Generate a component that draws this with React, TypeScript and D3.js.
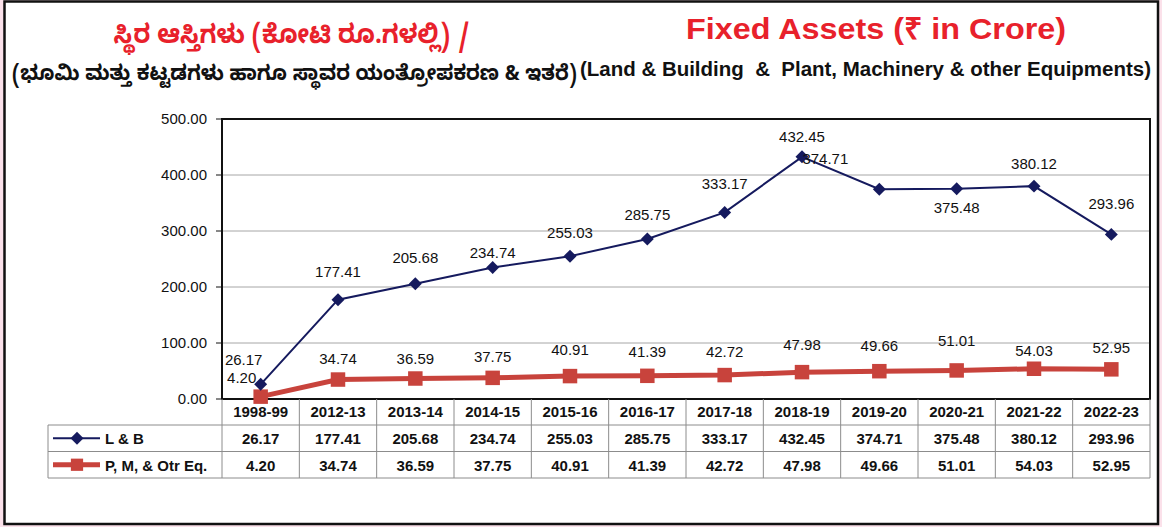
import React from "react";
import * as d3 from "d3";

const categories = ["1998-99","2012-13","2013-14","2014-15","2015-16","2016-17","2017-18","2018-19","2019-20","2020-21","2021-22","2022-23"];
const landBuilding = [26.17,177.41,205.68,234.74,255.03,285.75,333.17,432.45,374.71,375.48,380.12,293.96];
const plantMachinery = [4.20,34.74,36.59,37.75,40.91,41.39,42.72,47.98,49.66,51.01,54.03,52.95];
const yTicks = [0,100,200,300,400,500];
const seriesNames = ["L & B","P, M, & Otr Eq."];

// label placement (dx, dy) relative to point
const lbOffsets: [number, number][] = [[-17,-24],[0,-28],[0,-26],[0,-15],[0,-23],[0,-24],[0,-28],[0,-20],[-54,-30],[0,19],[0,-22],[0,-30]];
const pmOffsets: [number, number][] = [[-19,-19],[0,-21],[0,-20],[0,-21],[0,-26],[0,-24],[0,-23],[0,-27],[0,-25],[0,-29],[0,-18],[0,-21]];

const W = 1162, H = 527;
const left = 222, right = 1150, top = 119, bottom = 399;
const navy = "#151a5e";
const red = "#c8433c";
const font = "'Liberation Sans', Arial, sans-serif";

export default function App() {
  const x = d3.scaleBand<string>().domain(categories).range([left, right]);
  const bw = x.bandwidth();
  const cx = (c: string) => (x(c) as number) + bw / 2;
  const y = d3.scaleLinear().domain([0, 500]).range([bottom, top]);
  const fmt = d3.format(".2f");

  const lineGen = d3.line<number>().x((_, i) => cx(categories[i])).y((v) => y(v));
  const diamond = d3.symbol(d3.symbolSquare, 84)();
  const square = d3.symbol(d3.symbolSquare, 210)();
  const legSquare = d3.symbol(d3.symbolSquare, 150)();

  const row0 = 399, row1 = 425, row2 = 451.5, row3 = 478;
  const tableLeft = 48;

  return (
    <svg width={W} height={H} style={{ position: "absolute", left: 0, top: 0 }} fontFamily={font}>
      <rect x={0} y={0} width={W} height={H} fill="#fbe1ea" />
      <rect x={4.5} y={1.5} width={1153.5} height={522.5} fill="#ffffff" stroke="#111" strokeWidth={2.5} />

      {/* Titles */}
      <text x={292} y={43} textAnchor="middle" fill="#e8212b" fontWeight="bold" fontSize={26} fontFamily="'Noto Sans Kannada', 'Noto Sans', sans-serif" textLength={357} lengthAdjust="spacingAndGlyphs">ಸ್ಥಿರ ಆಸ್ತಿಗಳು (ಕೋಟಿ ರೂ.ಗಳಲ್ಲಿ) /</text>
      <text x={12} y={80} fill="#111" fontSize={21} fontWeight="bold" fontFamily="'Noto Sans Kannada', 'Noto Sans', sans-serif" textLength={565} lengthAdjust="spacingAndGlyphs">(ಭೂಮಿ ಮತ್ತು ಕಟ್ಟಡಗಳು ಹಾಗೂ ಸ್ಥಾವರ ಯಂತ್ರೋಪಕರಣ &amp; ಇತರೆ)</text>
      <text x={686} y={39} fill="#e8212b" fontWeight="bold" fontSize={30} textLength={380} lengthAdjust="spacingAndGlyphs">Fixed Assets (₹ in Crore)</text>
      <text x={580} y={76} fill="#111" fontWeight="bold" fontSize={20} textLength={571} lengthAdjust="spacingAndGlyphs" style={{ whiteSpace: "pre" }}>(Land &amp; Building  &amp;  Plant, Machinery &amp; other Equipments)</text>

      {/* gridlines */}
      {yTicks.map((t) => (
        <g key={t}>
          {t > 0 && t < 500 && <line x1={left} x2={right} y1={y(t)} y2={y(t)} stroke="#a6a6a6" strokeWidth={1} />}
          <line x1={left - 6} x2={left} y1={y(t)} y2={y(t)} stroke="#111" strokeWidth={1} />
          <text x={207} y={y(t) + 5} textAnchor="end" fontSize={15} fill="#111">{fmt(t)}</text>
        </g>
      ))}
      <rect x={left} y={top} width={right - left} height={bottom - top} fill="none" stroke="#111" strokeWidth={2} />

      {/* table */}
      <g stroke="#8c8c8c" strokeWidth={1}>
        <line x1={tableLeft} x2={right} y1={row1} y2={row1} />
        <line x1={tableLeft} x2={right} y1={row2} y2={row2} />
        <line x1={tableLeft} x2={right} y1={row3} y2={row3} />
        <line x1={tableLeft} x2={tableLeft} y1={row1} y2={row3} />
        <line x1={left} x2={left} y1={row0} y2={row3} />
        {categories.map((c) => (
          <line key={c} x1={(x(c) as number) + bw} x2={(x(c) as number) + bw} y1={row0} y2={row3} />
        ))}
      </g>
      {categories.map((c, i) => (
        <g key={c} fontWeight="bold" fontSize={15} textAnchor="middle" fill="#111">
          <text x={cx(c)} y={row0 + 18}>{c}</text>
          <text x={cx(c)} y={row1 + 19}>{fmt(landBuilding[i])}</text>
          <text x={cx(c)} y={row2 + 19}>{fmt(plantMachinery[i])}</text>
        </g>
      ))}
      {/* legend keys */}
      <line x1={53} x2={100} y1={(row1 + row2) / 2} y2={(row1 + row2) / 2} stroke={navy} strokeWidth={2} />
      <path d={diamond as string} transform={`translate(77,${(row1 + row2) / 2}) rotate(45)`} fill={navy} />
      <text x={105} y={row1 + 19} fontWeight="bold" fontSize={15} fill="#111">{seriesNames[0]}</text>
      <line x1={53} x2={100} y1={(row2 + row3) / 2} y2={(row2 + row3) / 2} stroke={red} strokeWidth={5} />
      <path d={legSquare as string} transform={`translate(77,${(row2 + row3) / 2})`} fill={red} />
      <text x={105} y={row2 + 19} fontWeight="bold" fontSize={15} fill="#111">{seriesNames[1]}</text>

      {/* series */}
      <path d={lineGen(plantMachinery) as string} fill="none" stroke={red} strokeWidth={5} />
      {plantMachinery.map((v, i) => (
        <path key={i} d={square as string} transform={`translate(${cx(categories[i])},${y(v)})`} fill={red} />
      ))}
      <path d={lineGen(landBuilding) as string} fill="none" stroke={navy} strokeWidth={2} />
      {landBuilding.map((v, i) => (
        <path key={i} d={diamond as string} transform={`translate(${cx(categories[i])},${y(v)}) rotate(45)`} fill={navy} />
      ))}

      {/* labels */}
      {landBuilding.map((v, i) => (
        <text key={i} x={cx(categories[i]) + lbOffsets[i][0]} y={y(v) + lbOffsets[i][1] + 5} textAnchor="middle" fontSize={15} fill="#111">{fmt(v)}</text>
      ))}
      {plantMachinery.map((v, i) => (
        <text key={i} x={cx(categories[i]) + pmOffsets[i][0]} y={y(v) + pmOffsets[i][1] + 5} textAnchor="middle" fontSize={15} fill="#111">{fmt(v)}</text>
      ))}
    </svg>
  );
}
